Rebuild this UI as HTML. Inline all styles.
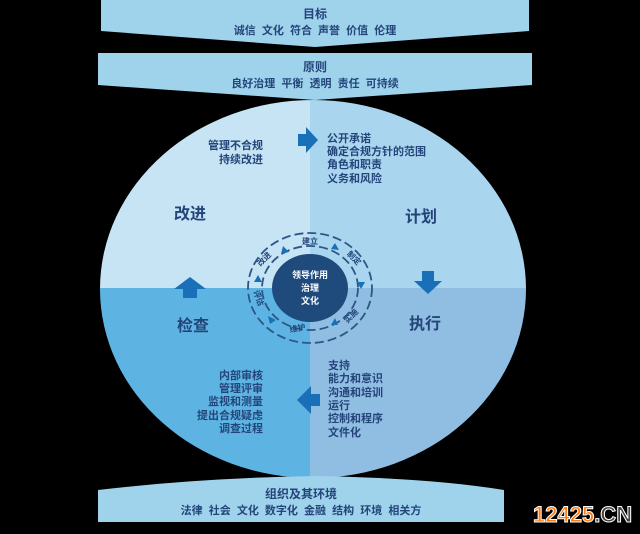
<!DOCTYPE html>
<html><head><meta charset="utf-8"><style>
html,body{margin:0;padding:0;background:#000;}
svg{display:block}
text{font-family:"Liberation Sans","Noto Sans CJK SC",sans-serif;font-weight:bold;fill:#24457a;white-space:pre}
</style></head><body>
<svg width="640" height="534" viewBox="0 0 640 534">
<rect width="640" height="534" fill="#000"/>
<polygon points="101,0 529,0 529,31 315,47 101,31" fill="#9fd3ec"/>
<polygon points="98,53 532,53 532,85 315,100 98,85" fill="#9fd3ec"/>
<text x="315" y="18" font-size="12" text-anchor="middle">目标</text>
<text x="315" y="34" font-size="11" text-anchor="middle">诚信  文化  符合  声誉  价值  伦理</text>
<text x="315" y="71" font-size="12" text-anchor="middle">原则</text>
<text x="315" y="87" font-size="11" text-anchor="middle">良好治理  平衡  透明  责任  可持续</text>
<defs><clipPath id="c"><ellipse cx="313" cy="289" rx="213" ry="189"/></clipPath></defs>
<g clip-path="url(#c)">
<rect x="90" y="90" width="220" height="198" fill="#c6e4f3"/>
<rect x="310" y="90" width="230" height="198" fill="#a9d5ee"/>
<rect x="90" y="288" width="220" height="200" fill="#5db4e3"/>
<rect x="310" y="288" width="230" height="200" fill="#90bde2"/>
</g>
<path d="M98,490 Q200,478 315,476 Q430,478 504,490 L504,522 L98,522 Z" fill="#9fd3ec"/>
<text x="301" y="498" font-size="12" text-anchor="middle">组织及其环境</text>
<text x="301" y="514" font-size="11" text-anchor="middle">法律  社会  文化  数字化  金融  结构  环境  相关方</text>
<g fill="#1a70b8">
<polygon points="298,134 306,134 306,127 318,140 306,153 306,146 298,146"/>
<polygon points="422,271 434,271 434,281 442,281 428,294 414,281 422,281"/>
<polygon points="183,298 197,298 197,289 206,289 190,277 174,289 183,289"/>
<polygon points="320,394 311,394 311,386 297,400 311,414 311,406 320,406"/>
</g>
<ellipse cx="310" cy="288" rx="62" ry="55" fill="none" stroke="#2d5688" stroke-width="1.8" stroke-dasharray="9,4"/>
<ellipse cx="310" cy="288" rx="48" ry="42" fill="none" stroke="#2d5688" stroke-width="1.8" stroke-dasharray="9,4"/>
<ellipse cx="310" cy="288" rx="38" ry="34" fill="#1f4a7c"/>
<text x="310" y="278" font-size="9" text-anchor="middle" style="fill:#fff">领导作用</text>
<text x="310" y="291" font-size="9" text-anchor="middle" style="fill:#fff">治理</text>
<text x="310" y="304" font-size="9" text-anchor="middle" style="fill:#fff">文化</text>
<g font-size="8" text-anchor="middle" style="font-weight:normal">
<text x="310" y="244">建立</text>
<text x="352" y="260" transform="rotate(45 352 260)">制定</text>
<text x="353" y="318" transform="rotate(-45 353 318)">实施</text>
<text x="298" y="331" transform="rotate(-10 298 331)">维护</text>
<text x="256" y="299" transform="rotate(70 256 299)">评估</text>
<text x="266" y="261" transform="rotate(-45 266 261)">改进</text>
</g>
<g fill="#1a70b8">
<polygon points="283,246 289,252 281,254"/><polygon points="335,243 339,250 331,249"/>
<polygon points="357,282 365,282 361,289"/><polygon points="331,325 335,318 338,325"/>
<polygon points="268,316 276,320 270,324"/><polygon points="254,282 258,275 262,282"/>
</g>
<text x="190" y="219" font-size="16" text-anchor="middle">改进</text>
<text x="421" y="222" font-size="16" text-anchor="middle">计划</text>
<text x="193" y="331" font-size="16" text-anchor="middle">检查</text>
<text x="425" y="329" font-size="16" text-anchor="middle">执行</text>
<g font-size="11">
<text x="263" y="149" text-anchor="end">管理不合规</text>
<text x="263" y="163" text-anchor="end">持续改进</text>
<text x="327" y="142">公开承诺</text>
<text x="327" y="155">确定合规方针的范围</text>
<text x="327" y="168">角色和职责</text>
<text x="327" y="182">义务和风险</text>
<text x="263" y="379" text-anchor="end">内部审核</text>
<text x="263" y="392" text-anchor="end">管理评审</text>
<text x="263" y="405" text-anchor="end">监视和测量</text>
<text x="263" y="419" text-anchor="end">提出合规疑虑</text>
<text x="263" y="432" text-anchor="end">调查过程</text>
<text x="328" y="369">支持</text>
<text x="328" y="382">能力和意识</text>
<text x="328" y="396">沟通和培训</text>
<text x="328" y="409">运行</text>
<text x="328" y="422">控制和程序</text>
<text x="328" y="436">文件化</text>
</g>
<text x="533" y="522" font-size="22" style="fill:#ff7a10;stroke:#fff;stroke-width:1;font-weight:bold">12425<tspan style="fill:#444">.CN</tspan></text>
</svg>
</body></html>
